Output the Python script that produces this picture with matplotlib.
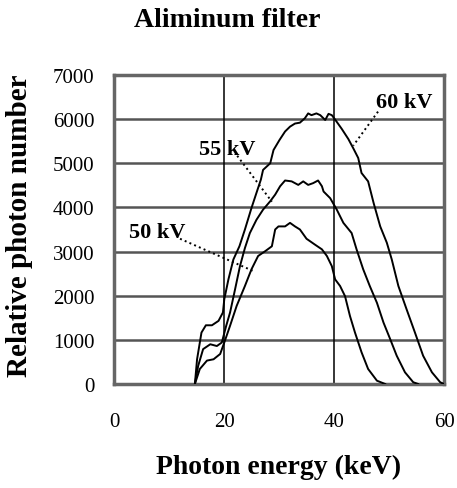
import matplotlib.pyplot as plt

plt.rcParams['font.family'] = ['Liberation Serif', 'DejaVu Serif']

# Spectra: photon energy (keV) and relative photon number
e_60 = [14.7, 15.1, 15.9, 16.7, 17.8, 19.0, 19.8, 20.05, 20.8, 21.7, 22.8, 23.8,
        25.0, 25.9, 26.7, 27.1, 28.4, 29.0, 30.1, 31.1, 32.0, 32.9, 33.8, 34.7,
        35.3, 35.9, 36.8, 37.5, 38.4, 39.0, 39.6, 40.2, 41.4, 42.6, 43.5, 44.4,
        45.0, 46.2, 47.2, 48.4, 49.6, 50.5, 51.7, 53.2, 54.7, 56.2, 57.8, 59.3,
        60.0]
n_60 = [0, 560, 1165, 1330, 1330, 1430, 1620, 1920, 2370, 2820, 3120, 3500,
        3990, 4330, 4630, 4850, 5000, 5300, 5530, 5720, 5830, 5900, 5920, 6020,
        6130, 6090, 6130, 6090, 5980, 6120, 6090, 5990, 5780, 5550, 5340, 5120,
        4780, 4590, 4100, 3570, 3200, 2820, 2220, 1690, 1170, 640, 265, 40,
        0]

e_55 = [14.7, 15.3, 16.2, 17.5, 18.7, 19.6, 20.4, 21.1, 22.0, 22.9, 23.8, 24.7,
        25.9, 27.1, 28.4, 29.3, 30.2, 31.1, 32.3, 33.5, 34.4, 35.3, 36.2, 37.1,
        37.8, 38.1, 39.3, 40.5, 41.7, 43.2, 44.1, 45.3, 46.5, 47.8, 49.0, 50.2,
        51.4, 52.9, 54.4, 55.3]
n_55 = [0, 410, 790, 900, 860, 940, 1320, 1620, 2140, 2670, 3080, 3420,
        3720, 3950, 4140, 4290, 4480, 4610, 4590, 4510, 4590, 4510, 4550, 4610,
        4480, 4360, 4210, 3950, 3650, 3420, 3050, 2600, 2220, 1840, 1390, 1020,
        640, 265, 40, 0]

e_50 = [14.7, 15.6, 16.9, 18.1, 19.3, 20.05, 21.1, 22.3, 23.8, 25.0, 26.2, 27.5,
        28.7, 29.3, 29.9, 31.1, 32.0, 32.9, 33.8, 35.0, 36.5, 37.8, 38.7, 39.6,
        40.2, 41.1, 42.0, 42.9, 43.8, 45.0, 46.2, 47.8, 49.3]
n_50 = [0, 340, 530, 560, 680, 940, 1320, 1770, 2220, 2600, 2900, 3010,
        3120, 3500, 3570, 3570, 3650, 3570, 3500, 3290, 3160, 3050, 2900, 2670,
        2370, 2220, 1990, 1540, 1170, 720, 340, 75, 0]

x_ticks = [0, 20, 40, 60]
y_ticks = [0, 1000, 2000, 3000, 4000, 5000, 6000, 7000]

fig = plt.figure(figsize=(4.57, 4.89), dpi=100)
ax = fig.add_axes([0.2495, 0.2127, 0.7221, 0.6319])

for yv in y_ticks[1:-1]:
    ax.axhline(yv, color='#555555', lw=1.8, zorder=1)
for xv in x_ticks[1:-1]:
    ax.axvline(xv, color='black', lw=1.1, zorder=1)

for e, n in [(e_60, n_60), (e_55, n_55), (e_50, n_50)]:
    ax.plot(e, n, color='black', lw=1.4, zorder=3, solid_joinstyle='round')

# series labels with dotted leaders
lab = dict(fontsize=16, fontweight='bold', ha='center', va='center')
ax.text(52.7, 6390, '60 kV', **lab)
ax.plot([48, 43.5], [6170, 5400], ls=':', color='black', lw=1.4)
ax.text(20.5, 5330, '55 kV', **lab)
ax.plot([22.4, 28.7], [5170, 4130], ls=':', color='black', lw=1.4)
ax.text(7.8, 3450, '50 kV', **lab)
ax.plot([12, 25.3], [3290, 2560], ls=':', color='black', lw=1.4)

ax.set_xlim(0, 60)
ax.set_ylim(0, 7000)
ax.set_xticks(x_ticks)
ax.set_yticks(y_ticks)
ax.tick_params(length=0, labelsize=15)
ax.tick_params(axis='x', pad=20)
ax.tick_params(axis='y', pad=14)
for s in ax.spines.values():
    s.set_color('#666666')
    s.set_linewidth(2.5)

fig.text(0.609, 1 - 474 / 489, 'Photon energy (keV)', fontsize=20,
         fontweight='bold', ha='center', va='baseline')
fig.text(20 / 457, 1 - 226 / 489, 'Relative photon number', fontsize=21,
         fontweight='bold', ha='center', va='center', rotation=90)
fig.text(0.498, 1 - 27 / 489, 'Aliminum filter', fontsize=20, fontweight='bold',
         ha='center', va='baseline')

fig.savefig('out.png', dpi=100)
